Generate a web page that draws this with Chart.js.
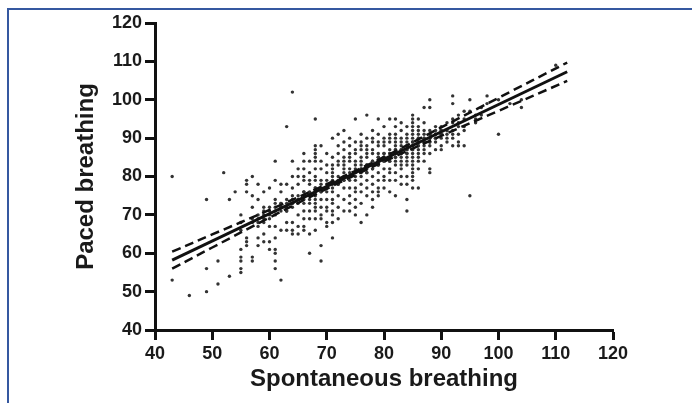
<!DOCTYPE html>
<html>
<head>
<meta charset="utf-8">
<script src="https://cdn.jsdelivr.net/npm/chart.js@4"></script>
<style>
  html, body { margin: 0; padding: 0; background: #fff; }
  #wrap { position: relative; width: 692px; height: 403px; overflow: hidden; }
  #frame { position: absolute; left: 7px; top: 8px; width: 720px; height: 420px;
           border-top: 2px solid #3558a0; border-left: 2px solid #3558a0; }
  canvas { position: absolute; left: 0; top: 0; }
</style>
</head>
<body>
<div id="wrap">
  <div id="frame"></div>
  <canvas id="chart" width="692" height="403"></canvas>
</div>
<script>
// Columnas de puntos: valor espontáneo (x) y valores de respiración pautada (y)
var colX = [43, 46, 49, 51, 52, 53, 54, 55, 56, 57, 58, 59, 60, 61, 62, 63, 64, 65, 66, 67,
            68, 69, 70, 71, 72, 73, 74, 75, 76, 77, 78, 79, 80, 81, 82, 83, 84, 85, 86, 87,
            88, 89, 90, 91, 92, 93, 94, 95, 96, 97, 98, 100, 102, 104, 110];
var colY = [
  [80, 53], [49], [74, 56, 50], [58, 52], [81], [74, 54], [76],
  [70, 68, 66, 61, 59, 58, 56, 55],
  [79, 78, 76, 64, 63, 62],
  [80, 75, 72, 59, 58],
  [78, 74, 67, 64, 62],
  [76, 72, 68, 65, 63],
  [77, 72, 67, 63, 61],
  [84, 79, 74, 73, 67, 64, 61, 60, 58, 56],
  [78, 76, 73, 66, 53],
  [93, 78, 74, 71, 68, 66],
  [102, 84, 80, 77, 75, 73, 68, 66, 65],
  [82, 80, 78, 74, 70, 67, 65],
  [86, 84, 82, 80, 79, 76, 73, 71, 69, 67, 66],
  [84, 81, 79, 78, 75, 73, 71, 69, 65, 60],
  [95, 88, 87, 86, 85, 84, 82, 80, 79, 77, 74, 73, 72, 71, 69, 66],
  [88, 84, 82, 79, 76, 74, 72, 70, 69, 62, 58],
  [86, 83, 81, 79, 74, 72, 71, 68, 67],
  [90, 85, 83, 82, 81, 80, 76, 74, 73, 71, 70, 68, 64],
  [91, 88, 86, 84, 83, 79, 78, 75, 72, 69],
  [92, 89, 87, 85, 84, 83, 82, 79, 77, 74, 71],
  [90, 88, 86, 85, 84, 82, 80, 77, 75, 73, 71],
  [95, 89, 87, 86, 84, 83, 79, 77, 76, 74, 72, 70],
  [91, 89, 88, 87, 85, 84, 82, 80, 78, 76, 73, 68],
  [96, 90, 88, 87, 86, 85, 83, 81, 79, 77, 75, 70],
  [92, 90, 89, 87, 86, 84, 83, 82, 80, 78, 76, 74, 72],
  [95, 91, 89, 88, 86, 85, 84, 83, 81, 79, 77, 76, 75],
  [93, 90, 89, 88, 86, 85, 84, 82, 80, 79, 77],
  [95, 91, 90, 89, 87, 86, 85, 84, 82, 81, 79, 76],
  [95, 93, 91, 90, 89, 88, 87, 86, 85, 84, 83, 81, 79, 75],
  [94, 92, 90, 89, 87, 86, 85, 84, 83, 82, 80, 78],
  [93, 91, 90, 89, 88, 87, 86, 85, 84, 83, 80, 78, 74, 71],
  [96, 95, 94, 93, 92, 91, 90, 89, 88, 87, 86, 85, 84, 83, 82, 81, 80, 79, 77],
  [95, 93, 92, 91, 90, 89, 88, 87, 86, 85, 84, 82, 77],
  [98, 94, 92, 91, 90, 89, 88, 87, 86, 84],
  [100, 98, 92, 91, 90, 89, 88, 86, 82, 81],
  [93, 92, 91, 90, 89, 87],
  [93, 92, 91, 90, 88, 87],
  [94, 92, 91, 90, 89],
  [101, 99, 95, 94, 92, 91, 90, 88],
  [96, 94, 93, 91, 89, 88],
  [97, 95, 93, 92, 88],
  [100, 97, 75],
  [96, 95, 94],
  [98, 96],
  [101, 99],
  [100, 91],
  [99],
  [98, 100],
  [109]
];

// Nube densa pegada a la recta (franja negra gruesa de la figura)
var densaX = [57, 58, 59, 60, 61, 62, 63, 64, 65, 66, 67, 68, 69, 70, 71, 72, 73, 74, 75, 76,
              77, 78, 79, 80, 81, 82, 83, 84, 85, 86, 87, 88, 89, 90];
var densaY = [
  [68, 69], [68, 69, 70], [69, 70, 71], [69, 70, 71], [70, 71, 72], [71, 72, 73], [71, 72, 73],
  [72, 73, 74], [73, 74, 75], [74, 75, 76], [74, 75, 76], [75, 76, 77], [76, 77, 78],
  [76, 77, 78], [77, 78, 79], [78, 79, 80], [79, 80, 81], [79, 80, 81], [80, 81, 82],
  [81, 82, 83], [81, 82, 83], [82, 83, 84], [83, 84, 85], [84, 85, 86], [84, 85, 86],
  [85, 86, 87], [86, 87, 88], [86, 87, 88], [87, 88, 89], [88, 89, 90], [89, 90],
  [89, 90, 91], [90, 91], [91, 92]
];

// Recta de regresión e intervalo de confianza
var lineaX = [43, 112];
var lineaY = [58.2, 107.3];
var bandaX = [43, 50, 60, 70, 80, 90, 100, 112];
var bandaSup = [60.4, 64.9, 71.3, 78.0, 85.1, 92.8, 100.5, 109.7];
var bandaInf = [56.0, 61.5, 69.3, 76.8, 83.9, 90.6, 97.1, 104.9];

var ticksEje = [40, 50, 60, 70, 80, 90, 100, 110, 120];

function pares(xs, ys) {
  return xs.map(function(x, i) { return { x: x, y: ys[i] }; });
}

var puntos = [];
function agregarColumnas(xs, yss) {
  xs.forEach(function(x, i) {
    yss[i].forEach(function(y) { puntos.push({ x: x, y: y }); });
  });
}
agregarColumnas(colX, colY);
agregarColumnas(densaX, densaY);

var fuente = 'Liberation Sans, Arial, sans-serif';
var negro = '#111';

function ejeBase(titulo, paddingTitulo) {
  return {
    type: 'linear',
    min: 40,
    max: 120,
    afterBuildTicks: function(scale) {
      scale.ticks = ticksEje.map(function(v) { return { value: v }; });
    },
    grid: {
      drawOnChartArea: false,
      drawTicks: true,
      tickLength: 10,
      tickWidth: 3,
      color: negro
    },
    border: { display: true, width: 3, color: negro },
    ticks: {
      color: '#1a1a1a',
      padding: 3,
      font: { family: fuente, size: 18, weight: 'bold' }
    },
    title: {
      display: true,
      text: titulo,
      color: '#1a1a1a',
      padding: paddingTitulo,
      font: { family: fuente, size: 24, weight: 'bold' }
    }
  };
}

var ejeX = ejeBase('Spontaneous breathing', { top: 0, bottom: 9 });
ejeX.afterFit = function(scale) { scale.height = 73; };
var ejeY = ejeBase('Paced breathing', { top: 72, bottom: 0 });
ejeY.afterFit = function(scale) { scale.width = 155; };

new Chart(document.getElementById('chart'), {
  type: 'scatter',
  data: {
    datasets: [
      {
        type: 'line',
        data: pares(lineaX, lineaY),
        borderColor: negro,
        borderWidth: 3,
        pointRadius: 0,
        fill: false
      },
      {
        type: 'line',
        data: pares(bandaX, bandaSup),
        borderColor: negro,
        borderWidth: 2.5,
        borderDash: [9, 5],
        pointRadius: 0,
        tension: 0.4,
        fill: false
      },
      {
        type: 'line',
        data: pares(bandaX, bandaInf),
        borderColor: negro,
        borderWidth: 2.5,
        borderDash: [9, 5],
        pointRadius: 0,
        tension: 0.4,
        fill: false
      },
      {
        data: puntos,
        backgroundColor: '#333',
        borderWidth: 0,
        pointRadius: 1.7
      }
    ]
  },
  options: {
    responsive: false,
    animation: false,
    devicePixelRatio: 1,
    layout: { padding: { top: 23, right: 79, bottom: 0, left: 0 } },
    plugins: {
      legend: { display: false },
      tooltip: { enabled: false }
    },
    scales: { x: ejeX, y: ejeY }
  }
});
</script>
</body>
</html>
